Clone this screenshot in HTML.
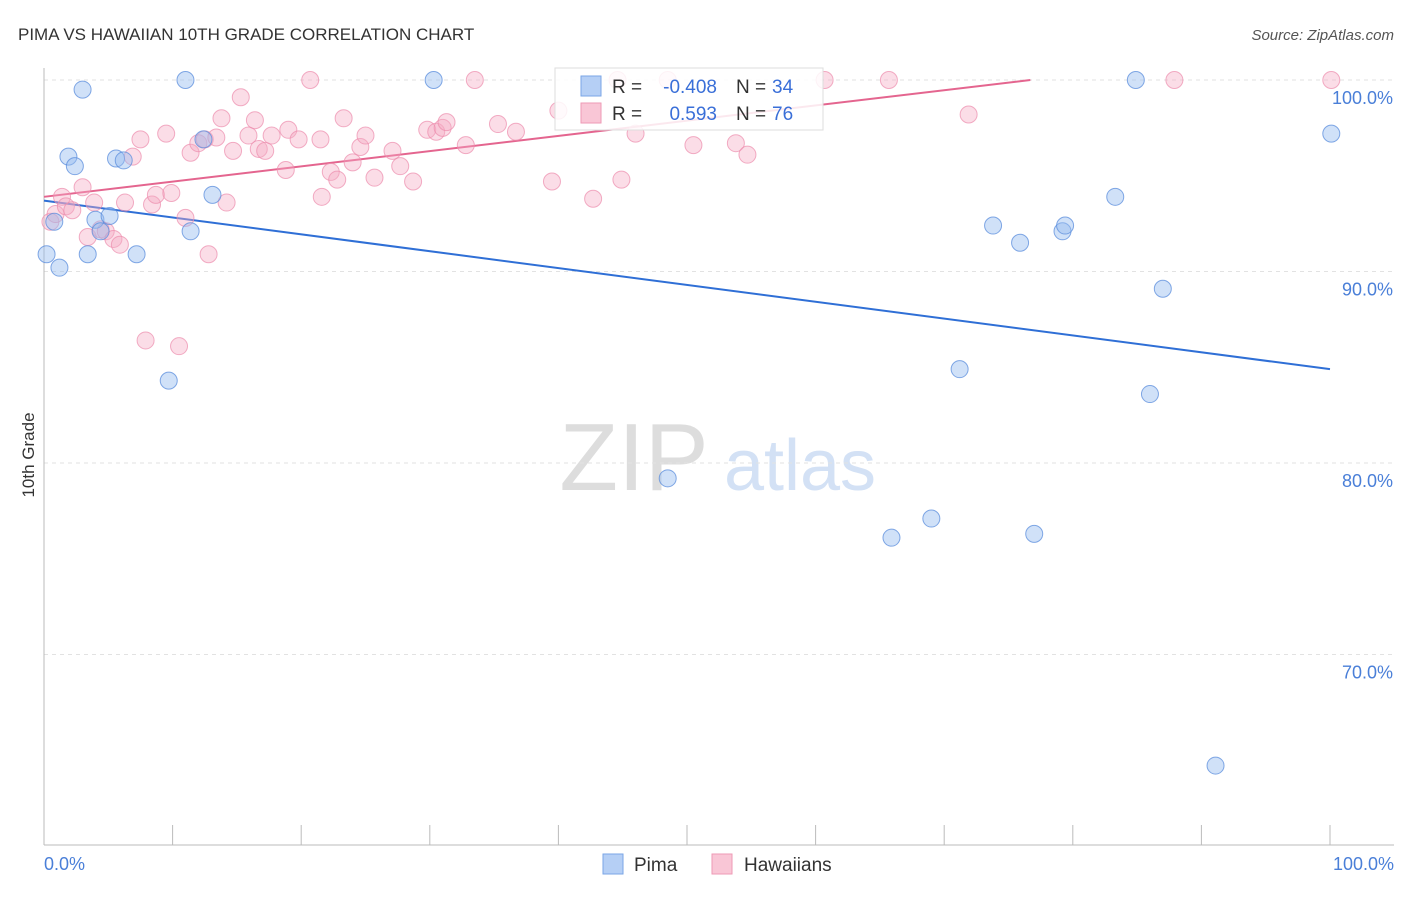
<!DOCTYPE html>
<html><head><meta charset="utf-8"><style>
body{margin:0;background:#fff;font-family:"Liberation Sans",sans-serif}
svg text{font-family:"Liberation Sans",sans-serif}
</style></head><body>
<svg id="chart" width="1406" height="892" viewBox="0 0 1406 892" xmlns="http://www.w3.org/2000/svg">
<text x="18" y="40" font-size="17" fill="#333">PIMA VS HAWAIIAN 10TH GRADE CORRELATION CHART</text>
<text x="1394" y="40" font-size="15" fill="#555" font-style="italic" text-anchor="end">Source: ZipAtlas.com</text>
<text x="34" y="455" font-size="17" fill="#333" transform="rotate(-90 34 455)" text-anchor="middle">10th Grade</text>
<g><text x="634" y="490" font-size="96" fill="#ddd" font-family="Liberation Serif" text-anchor="middle">ZIP</text><text x="800" y="490" font-size="72" fill="#d3e1f5" text-anchor="middle">atlas</text></g>
<g id="grid"></g><g id="axes"></g><g id="trend"></g>
<g id="pts"></g>
<g>
<rect x="555" y="68" width="268" height="62" fill="#fff" fill-opacity="0.85" stroke="#ddd"/>
<rect x="581" y="76" width="20" height="20" fill="#b5cff5" stroke="#7aa6e6"/>
<rect x="581" y="103" width="20" height="20" fill="#f9c6d6" stroke="#ee9ab5"/>
<text x="612" y="93" font-size="19" fill="#333">R =</text><text x="717" y="93" font-size="19" fill="#3a6fd8" text-anchor="end">-0.408</text>
<text x="736" y="93" font-size="19" fill="#333">N =</text><text x="772" y="93" font-size="19" fill="#3a6fd8">34</text>
<text x="612" y="120" font-size="19" fill="#333">R =</text><text x="717" y="120" font-size="19" fill="#3a6fd8" text-anchor="end">0.593</text>
<text x="736" y="120" font-size="19" fill="#333">N =</text><text x="772" y="120" font-size="19" fill="#3a6fd8">76</text>
</g>
<g>
<rect x="603" y="854" width="20" height="20" fill="#b5cff5" stroke="#7aa6e6"/><text x="634" y="871" font-size="19" fill="#333">Pima</text>
<rect x="712" y="854" width="20" height="20" fill="#f9c6d6" stroke="#ee9ab5"/><text x="744" y="871" font-size="19" fill="#333">Hawaiians</text>
</g>
</svg>
<script>
const yTicks=[100,90,80,70];
const xTickLabels=["0.0%","100.0%"];
const pimaX=[0.2,1.2,0.8,1.9,2.4,3,3.4,4,4.4,5.1,5.6,6.2,7.2,9.7,11,11.4,12.4,13.1,30.3,48.5,65.9,69,71.2,73.8,75.9,77,79.2,79.4,83.3,84.9,86,87,91.1,100.1];
const pimaY=[90.9,90.2,92.6,96,95.5,99.5,90.9,92.7,92.1,92.9,95.9,95.8,90.9,84.3,100,92.1,96.9,94,100,79.2,76.1,77.1,84.9,92.4,91.5,76.3,92.1,92.4,93.9,100,83.6,89.1,64.2,97.2];
const hawX=[0.5,0.9,1.4,1.7,2.2,3,3.4,3.9,4.4,4.8,5.4,5.9,6.3,6.9,7.5,7.9,8.4,8.7,9.5,9.9,10.5,11,11.4,12,12.5,12.8,13.4,13.8,14.2,14.7,15.3,15.9,16.4,16.7,17.2,17.7,18.8,19,19.8,20.7,21.5,21.6,22.3,22.8,23.3,24,24.6,25,25.7,27.1,27.7,28.7,29.8,30.5,31,31.3,32.8,33.5,35.3,36.7,39.5,40,42.7,44.6,44.9,46,48.5,50.5,53.8,54.7,60.7,65.7,71.9,87.9,100.1];
const hawY=[92.6,93,93.9,93.4,93.2,94.4,91.8,93.6,92.2,92.1,91.7,91.4,93.6,96,96.9,86.4,93.5,94,97.2,94.1,86.1,92.8,96.2,96.7,96.9,90.9,97,98,93.6,96.3,99.1,97.1,97.9,96.4,96.3,97.1,95.3,97.4,96.9,100,96.9,93.9,95.2,94.8,98,95.7,96.5,97.1,94.9,96.3,95.5,94.7,97.4,97.3,97.5,97.8,96.6,100,97.7,97.3,94.7,98.4,93.8,100,94.8,97.2,100,96.6,96.7,96.1,100,100,98.2,100,100];
const pimaLine=[93.7,84.9];
const hawLine=[[0,93.9],[76.7,100]];
const X=v=>44+v*12.86, Y=v=>80+(100-v)*19.15;
const NS="http://www.w3.org/2000/svg";
function mk(t,a,p){const e=document.createElementNS(NS,t);for(const k in a)e.setAttribute(k,a[k]);p.appendChild(e);return e;}
const grid=document.getElementById('grid'),axes=document.getElementById('axes');
yTicks.forEach(t=>{const l=mk('line',{x1:44,x2:1394,y1:Y(t),y2:Y(t),stroke:'#e2e2e2','stroke-dasharray':'4,4'},grid);

const tx=mk('text',{x:1393,y:Y(t)+24,'font-size':18,fill:'#4a7fd8','text-anchor':'end'},axes);tx.textContent=t.toFixed(1)+'%';
});
const ax=mk('line',{x1:44,x2:1394,y1:845,y2:845,stroke:'#bbb'},axes);

const ay=mk('line',{x1:44,x2:44,y1:68,y2:845,stroke:'#bbb'},axes);

for(let i=1;i<=10;i++){const t=mk('line',{x1:X(i*10),x2:X(i*10),y1:825,y2:845,stroke:'#bbb'},axes);
}
const xl=mk('text',{x:44,y:870,'font-size':18,fill:'#4a7fd8'},axes);xl.textContent=xTickLabels[0];

const xr=mk('text',{x:1394,y:870,'font-size':18,fill:'#4a7fd8','text-anchor':'end'},axes);xr.textContent=xTickLabels[1];

const pts=document.getElementById('pts');
hawX.forEach((x,i)=>{const c=mk('circle',{cx:X(x),cy:Y(hawY[i]),r:8.5,fill:'rgba(246,170,196,0.4)',stroke:'rgba(236,140,172,0.7)'},pts);
});
pimaX.forEach((x,i)=>{const c=mk('circle',{cx:X(x),cy:Y(pimaY[i]),r:8.5,fill:'rgba(150,188,240,0.45)',stroke:'rgba(90,140,220,0.75)'},pts);
});
const tr=document.getElementById('trend');
const bl=mk('line',{x1:X(0),y1:Y(pimaLine[0]),x2:X(100),y2:Y(pimaLine[1]),stroke:'#2f6fd6','stroke-width':2},tr);

const pl=mk('line',{x1:X(hawLine[0][0]),y1:Y(hawLine[0][1]),x2:X(hawLine[1][0]),y2:Y(hawLine[1][1]),stroke:'#e4658f','stroke-width':2},tr);

</script>
</body></html>
